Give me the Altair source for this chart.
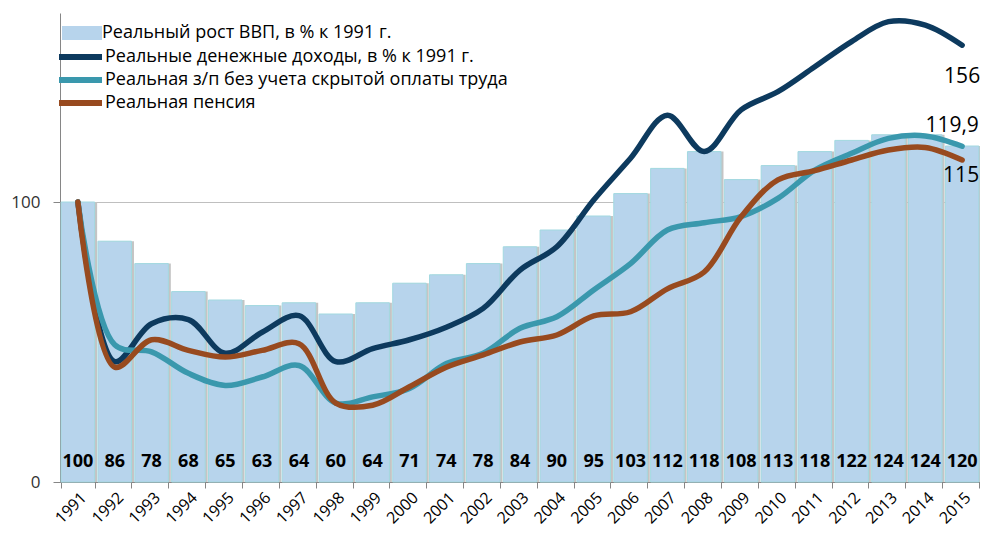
import altair as alt
import pandas as pd

years = [str(y) for y in range(1991, 2016)]
gdp = [100, 86, 78, 68, 65, 63, 64, 60, 64, 71, 74, 78, 84, 90, 95, 103, 112, 118, 108, 113, 118, 122, 124, 124, 120]
income = [100, 43, 56.5, 58, 46, 53.5, 59.4, 43, 47.6, 50.8, 55.3, 62, 75.7, 84, 100.7, 115.6, 131, 118, 132.9, 139.4, 148.3, 157.3, 164.4, 163.2, 156]
wage = [100, 49, 46.5, 38.8, 34.5, 37.5, 41.6, 28.2, 30.4, 33.4, 42.3, 46, 54.9, 59, 68.6, 78, 90, 92.6, 94.8, 101.3, 111.4, 117.4, 122.7, 123.6, 119.9]
pension = [100, 41, 50.8, 47, 44.6, 47, 49.4, 28.2, 27.4, 34, 41, 45.4, 50, 52.5, 59.3, 60.8, 69, 75, 94.7, 107.9, 111.2, 115, 118.6, 119.5, 115]

bar_name = "Реальный рост ВВП, в % к 1991 г."
series_names = [
    "Реальные денежные доходы, в % к 1991 г.",
    "Реальная з/п без учета скрытой оплаты труда",
    "Реальная пенсия",
]
series_colors = ["#0D3A5E", "#3A98AD", "#984A1F"]
end_labels = ["156", "119,9", "115"]

FONT = "Open Sans"

bars_df = pd.DataFrame({"year": years, "gdp": gdp, "name": bar_name})
rows = []
for name, vals in zip(series_names, [income, wage, pension]):
    for y, v in zip(years, vals):
        rows.append({"year": y, "value": v, "series": name})
lines_df = pd.DataFrame(rows)
end_df = pd.DataFrame({
    "year": [years[-1]] * 3,
    "value": [income[-1], wage[-1], pension[-1]],
    "series": series_names,
    "label": end_labels,
})

x_enc = alt.X(
    "year:O",
    scale=alt.Scale(paddingInner=0.09, paddingOuter=0.03),
    axis=alt.Axis(
        title=None, labelAngle=-45, tickBand="extent", labelFontSize=16,
        labelColor="#000000", labelFont=FONT, domainColor="#868686",
        tickColor="#868686", tickSize=6, labelPadding=1,
    ),
)
y_scale = alt.Scale(domain=[0, 167.5], nice=False, zero=True)
y_axis = alt.Axis(
    title=None, values=[0, 100], grid=True, gridColor="#BFBFBF",
    domainColor="#868686", tickColor="#868686", tickSize=7,
    labelFontSize=17, labelColor="#333333", labelFont=FONT, labelPadding=13,
)

base_bars = alt.Chart(bars_df)

shadow = base_bars.mark_bar(color="#C4C4C4", xOffset=2.5).encode(
    x=x_enc,
    y=alt.Y("gdp:Q", scale=y_scale, axis=y_axis),
)

bars = base_bars.mark_bar(stroke="#A2D9E0", strokeWidth=1).encode(
    x=x_enc,
    y=alt.Y("gdp:Q", scale=y_scale, axis=y_axis),
    fill=alt.Fill(
        "name:N",
        scale=alt.Scale(range=["#B7D4EC"]),
        legend=alt.Legend(
            title=None, orient="none", legendX=-3, legendY=9.5,
            symbolType="M-1,-0.35H1V0.35H-1Z", symbolSize=1600,
            symbolStrokeWidth=0, symbolOpacity=1, clipHeight=21,
            symbolOffset=5,
            labelFontSize=18, labelFont=FONT, labelColor="#000000",
            labelOffset=0, padding=0, labelLimit=700,
        ),
    ),
)

bar_text = base_bars.mark_text(
    fontWeight="bold", fontSize=18, font=FONT, color="#000000", dy=-20
).encode(
    x=x_enc,
    y=alt.datum(0),
    text=alt.Text("gdp:Q"),
)

lines = alt.Chart(lines_df).mark_line(
    interpolate="catmull-rom", strokeWidth=5.5, strokeCap="round", strokeJoin="round"
).encode(
    x=x_enc,
    y=alt.Y("value:Q", scale=y_scale),
    stroke=alt.Stroke(
        "series:N",
        scale=alt.Scale(domain=series_names, range=series_colors),
        sort=series_names,
        legend=alt.Legend(
            title=None, orient="none", legendX=-5, legendY=33.5,
            symbolType="stroke", symbolSize=1849, symbolStrokeWidth=6,
            symbolOffset=1, clipHeight=21, rowPadding=2,
            labelFontSize=18, labelFont=FONT, labelColor="#000000",
            labelOffset=0, padding=0, labelLimit=700,
        ),
    ),
    order=alt.Order("series_idx:Q"),
).transform_calculate(
    series_idx="indexof(" + str(series_names).replace("'", '"') + ", datum.series)"
)

end_layers = []
for name, lab, dy, dx in zip(series_names, end_labels, [32, -20, 16], [0, -10, -1]):
    end_layers.append(
        alt.Chart(end_df).transform_filter(alt.datum.series == name).mark_text(
            fontSize=21, font=FONT, color="#000000", dy=dy, dx=dx
        ).encode(
            x=x_enc,
            y=alt.Y("value:Q", scale=y_scale),
            text="label:N",
        )
    )

chart = alt.layer(shadow, bars, bar_text, lines, *end_layers).resolve_scale(
    fill="independent", stroke="independent"
).properties(
    width=920, height=469,
    autosize=alt.AutoSizeParams(type="none"),
    padding={"left": 52, "top": 5, "right": 0, "bottom": 47},
    background="white",
).configure_view(stroke=None)

chart.save("out.html", embed_options={"renderer": "svg", "actions": False})
